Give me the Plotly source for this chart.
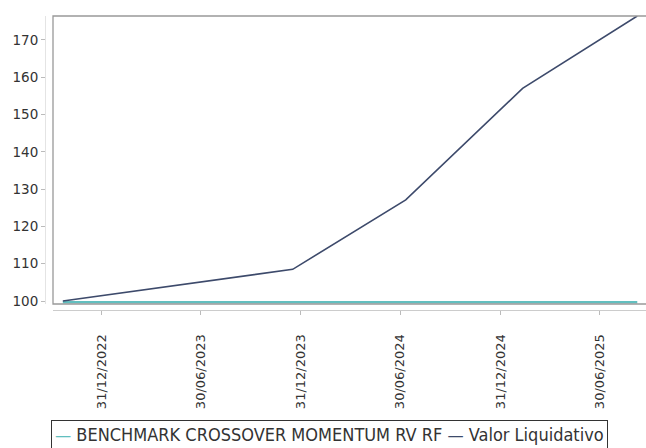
import plotly.graph_objects as go

# Data
fund_dates = ["2022-10-21", "2023-12-16", "2024-07-10", "2025-02-09", "2025-09-07"]
fund_values = [100.0, 108.5, 127.1, 157.0, 176.4]
bench_dates = ["2022-10-21", "2023-12-16", "2024-07-10", "2025-02-09", "2025-09-07"]
bench_values = [99.7, 99.7, 99.7, 99.7, 99.7]
tick_dates = ["2022-12-31", "2023-06-30", "2023-12-31", "2024-06-30", "2024-12-31", "2025-06-30"]
tick_labels = ["31/12/2022", "30/06/2023", "31/12/2023", "30/06/2024", "31/12/2024", "30/06/2025"]
bench_name = "BENCHMARK CROSSOVER MOMENTUM RV RF"
fund_name = "Valor Liquidativo"

W, H = 646, 448
BENCH_COLOR = "#62bfbf"
FUND_COLOR = "#3d4a6b"

fig = go.Figure()
fig.add_trace(go.Scatter(x=bench_dates, y=bench_values, mode="lines", name=bench_name,
                         line=dict(color=BENCH_COLOR, width=2.5), showlegend=False))
fig.add_trace(go.Scatter(x=fund_dates, y=fund_values, mode="lines", name=fund_name,
                         line=dict(color=FUND_COLOR, width=1.6), showlegend=False))

x0, x1 = 53 / W, 1.0
y0, y1 = 1 - 304 / H, 1 - 16 / H

fig.update_layout(
    width=W, height=H,
    margin=dict(l=0, r=0, t=0, b=0, autoexpand=False),
    paper_bgcolor="white", plot_bgcolor="white",
    font=dict(family="DejaVu Sans", color="#444444", size=13),
    xaxis=dict(
        type="date", domain=[x0, x1], anchor="free", position=1 - 310 / H,
        range=["2022-10-03", "2025-09-23"],
        tickmode="array", tickvals=tick_dates, ticktext=tick_labels,
        tickangle=-90, ticks="outside", ticklen=4, tickcolor="#bbbbbb",
        ticklabelstandoff=14,
        showline=True, linecolor="#cccccc", linewidth=1,
        showgrid=False, zeroline=False,
        tickfont=dict(size=13, color="#333333"),
    ),
    yaxis=dict(
        domain=[y0, y1], anchor="free", position=45 / W,
        range=[99.2, 176.4], dtick=10, tick0=100,
        ticks="outside", ticklen=4, tickcolor="#bbbbbb",
        showline=True, linecolor="#e4e4e4", linewidth=1,
        showgrid=False, zeroline=False,
        tickfont=dict(size=13.5, color="#333333"),
    ),
    shapes=[dict(type="rect", xref="x domain", yref="y domain", x0=0, x1=1.01, y0=0, y1=1,
                 line=dict(color="#999999", width=1.3), layer="above")],
    annotations=[dict(
        xref="paper", yref="paper", x=329.5 / W, y=1 - 420 / H,
        xanchor="center", yanchor="top", showarrow=False,
        text=(f"<span style='color:{BENCH_COLOR}'>—</span> {bench_name} "
              f"<span style='color:{FUND_COLOR}'>—</span> {fund_name}"),
        font=dict(family="DejaVu Sans Condensed, DejaVu Sans", size=18, color="#333333"),
        bordercolor="#333333", borderwidth=1, borderpad=3, bgcolor="white",
    )],
)

fig.write_html("out.html", config={"displayModeBar": False},
               post_script="document.body.style.margin='0';document.body.style.overflow='hidden';")
